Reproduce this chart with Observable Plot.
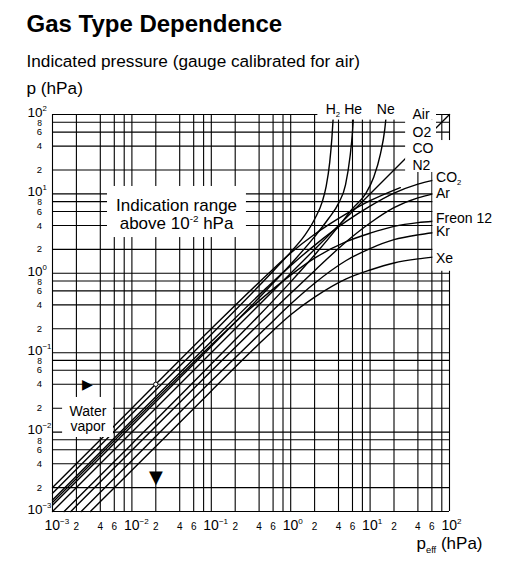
<!DOCTYPE html>
<html>
<head>
<meta charset="utf-8">
<script src="https://cdn.jsdelivr.net/npm/d3@7"></script>
<script src="https://cdn.jsdelivr.net/npm/@observablehq/plot@0.6"></script>
<style>
  html, body { margin: 0; padding: 0; background: white; }
  #chart { width: 509px; height: 562px; }
</style>
</head>
<body>
<div id="chart"></div>
<script>
// ---------- data ----------
const decades = [0.001, 0.01, 0.1, 1, 10, 100];
const exponents = ["−3", "−2", "−1", "0", "1", "2"];
const gridMultipliers = [1, 2, 4, 6, 8];
const xMinorLabels = [2, 4, 6];
const yMinorLabels = [2, 4, 6, 8];

const air     = [[0.001,0.001],[100,100]];
const water   = [[0.001,0.002],[0.01,0.02],[0.1,0.2],[0.5,0.95],[1,1.8],[2,3.1],[5,5.6],[10,8.2],[24,12]];
const h2      = [[0.001,0.0017],[0.01,0.017],[0.1,0.17],[0.5,0.88],[1,1.85],[1.5,3.0],[2,4.8],[2.5,8],[2.8,12.5],[3.1,25],[3.3,50],[3.45,100]];
const he      = [[0.001,0.0012],[0.01,0.012],[0.1,0.12],[0.5,0.62],[1,1.3],[2,2.9],[3,4.9],[4,7.6],[4.9,13],[5.6,30],[6,60],[6.2,100]];
const ne      = [[0.0014,0.001],[0.01,0.0071],[0.1,0.072],[1,0.78],[2,1.7],[4,3.9],[6,6.5],[8.75,10],[11.1,16.2],[13.5,32],[15.3,65],[16,100]];
const co2     = [[0.001,0.0014],[0.01,0.014],[0.1,0.138],[0.5,0.66],[1,1.25],[2,2.25],[5,4.5],[10,7.0],[20,10.2],[40,13.3],[62,14.8]];
const ar      = [[0.0017,0.001],[0.01,0.0059],[0.1,0.059],[1,0.56],[2,1.08],[5,2.5],[10,4.3],[20,6.7],[40,8.9],[62,10]];
const freon12 = [[0.001,0.0013],[0.01,0.013],[0.1,0.125],[0.3,0.35],[1,0.95],[2,1.55],[5,2.5],[10,3.2],[20,3.9],[40,4.35],[62,4.53]];
const kr      = [[0.0023,0.001],[0.01,0.0044],[0.1,0.044],[0.5,0.21],[1,0.41],[2,0.75],[5,1.45],[10,2.05],[20,2.65],[40,3.05],[62,3.24]];
const xe      = [[0.003,0.001],[0.01,0.0033],[0.1,0.033],[0.5,0.16],[1,0.3],[2,0.5],[5,0.85],[10,1.1],[20,1.35],[40,1.52],[62,1.6]];

const readingPoint = [[0.02, 0.04]];   // water vapor example reading
const readingStartY = 0.04;
const readingEndX = 0.02;

// ---------- derived tables ----------
const series = [
  {gas: "Air", pts: air}, {gas: "Water vapor", pts: water}, {gas: "H2", pts: h2},
  {gas: "He", pts: he}, {gas: "Ne", pts: ne}, {gas: "CO2", pts: co2},
  {gas: "Ar", pts: ar}, {gas: "Freon 12", pts: freon12}, {gas: "Kr", pts: kr}, {gas: "Xe", pts: xe}
];
const rows = series.flatMap(s => s.pts.map(([x, y]) => ({gas: s.gas, x, y})));
const last = name => { const p = series.find(s => s.gas === name).pts; const [x, y] = p[p.length - 1]; return {x, y}; };

const gridValues = decades.flatMap(d => gridMultipliers.map(m => m * d)).filter(v => v <= 100 + 1e-9);
const xMinor = decades.slice(0, 5).flatMap(d => xMinorLabels.map(m => ({v: m * d, t: String(m)})));
const yMinor = decades.slice(0, 5).flatMap(d => yMinorLabels.map(m => ({v: m * d, t: String(m), dy: m === 8 ? 1 : 0})));
const majors = decades.map((d, i) => ({v: d, t: "10^{" + exponents[i] + "}"}));

const topLabels = [
  {...last("H2"), t: "H_{2}", dx: -3},
  {...last("He"), t: "He", dx: 1},
  {...last("Ne"), t: "Ne", dx: -1}
];
const rightLabels = [
  {...last("CO2"), t: "CO_{2}", dy: -3},
  {...last("Ar"), t: "Ar", dy: 0},
  {...last("Freon 12"), t: "Freon 12", dy: -3},
  {...last("Kr"), t: "Kr", dy: -1},
  {...last("Xe"), t: "Xe", dy: 1}
];
const airLabels = [
  {y: 100, t: "Air", dy: 0}, {y: 60, t: "O2", dy: 0}, {y: 40, t: "CO", dy: 2}, {y: 20, t: "N2", dy: -4}
];
const panels = [
  {x1: 2.2, x2: 68.6, y1: 130, y2: 85},
  {x1: 28, x2: 68.6, y1: 85, y2: 18.6},
  {x1: 62, x2: 300, y1: 47, y2: 1.06},
  {x1: 0.00493, x2: 0.277, y1: 12.4, y2: 2.82},
  {x1: 0.00134, x2: 0.00586, y1: 0.0273, y2: 0.00855}
];

const font = "'Liberation Sans', Arial, Helvetica, sans-serif";

const chart = Plot.plot({
  width: 509, height: 562,
  marginTop: 114, marginBottom: 51, marginLeft: 52, marginRight: 60,
  x: {type: "log", domain: [0.001, 100], axis: null},
  y: {type: "log", domain: [0.001, 100], axis: null},
  style: {fontFamily: font, background: "white", color: "black", overflow: "visible"},
  marks: [
    Plot.ruleX(gridValues, {x: d => d, stroke: "black", strokeWidth: 1.1}),
    Plot.ruleY(gridValues, {y: d => d, stroke: "black", strokeWidth: 1.1}),
    Plot.line(rows, {x: "x", y: "y", z: "gas", curve: "monotone-x", stroke: "black", strokeWidth: 1.4}),
    Plot.rect(panels, {x1: "x1", x2: "x2", y1: "y1", y2: "y2", fill: "white"}),
    Plot.dot(readingPoint, {x: d => d[0], y: d => d[1], r: 2.2, fill: "white", stroke: "black", strokeWidth: 1}),
    Plot.text(["▶"], {x: 0.00276, y: readingStartY, text: d => d, fontSize: 14, fontFamily: "DejaVu Sans", textAnchor: "middle", lineAnchor: "middle"}),
    Plot.text(["▼"], {x: readingEndX, y: 0.00268, text: d => d, fontSize: 18, fontFamily: "DejaVu Sans", textAnchor: "middle", lineAnchor: "middle"}),
    Plot.text(["Indication range\nabove 10^{-2} hPa"], {x: 0.0365, y: 5.6, text: d => d, fontSize: 17, lineHeight: 1.1, textAnchor: "middle", lineAnchor: "middle"}),
    Plot.text(["Water\nvapor"], {x: 0.0028, y: 0.0148, text: d => d, fontSize: 14, lineHeight: 1.1, textAnchor: "middle", lineAnchor: "middle"}),
    Plot.text(topLabels, {x: "x", y: "y", text: "t", dx: "dx", fontSize: 14, textAnchor: "middle", lineAnchor: "bottom", dy: 5}),
    ...rightLabels.map(l => Plot.text([l], {x: "x", y: "y", text: "t", fontSize: 14, textAnchor: "start", lineAnchor: "middle", dx: 3, dy: l.dy})),
    ...airLabels.map(l => Plot.text([l], {x: 34.2, y: "y", text: "t", fontSize: 14, textAnchor: "start", lineAnchor: "middle", dy: l.dy})),
    Plot.text(majors, {x: "v", text: "t", frameAnchor: "bottom", textAnchor: "start", lineAnchor: "bottom", dx: -8, dy: 18, fontSize: 14}),
    Plot.text(xMinor, {x: "v", text: "t", frameAnchor: "bottom", textAnchor: "middle", lineAnchor: "bottom", dy: 18, fontSize: 10}),
    Plot.text(majors, {y: "v", text: "t", frameAnchor: "left", textAnchor: "start", lineAnchor: "middle", dx: -25, dy: -2, fontSize: 13.5}),
    ...[false, true].map(isEight => Plot.text(yMinor.filter(d => (d.t === "8") === isEight), {y: "v", text: "t", frameAnchor: "left", textAnchor: "middle", lineAnchor: "middle", dx: -13, dy: isEight ? 1 : 0, fontSize: isEight ? 8.5 : 9.5})),
    Plot.text(["Gas Type Dependence"], {text: d => d, frameAnchor: "top-left", dx: -26, dy: -83, textAnchor: "start", lineAnchor: "bottom", fontSize: 24, fontWeight: "bold"}),
    Plot.text(["Indicated pressure (gauge calibrated for air)"], {text: d => d, frameAnchor: "top-left", dx: -26, dy: -48, textAnchor: "start", lineAnchor: "bottom", fontSize: 17.2}),
    Plot.text(["p (hPa)"], {text: d => d, frameAnchor: "top-left", dx: -26, dy: -21, textAnchor: "start", lineAnchor: "bottom", fontSize: 17.2}),
    Plot.text(["p_{eff} (hPa)"], {text: d => d, frameAnchor: "bottom-right", dx: 33, dy: 37, textAnchor: "end", lineAnchor: "bottom", fontSize: 17})
  ]
});

document.getElementById("chart").appendChild(chart);

function richify(svg) {
  const NS = "http://www.w3.org/2000/svg";
  const els = Array.from(svg.querySelectorAll("text, tspan")).filter(el => el.children.length === 0 && /[\^_]\{/.test(el.textContent));
  for (const el of els) {
    const s = el.textContent;
    const base = parseFloat(getComputedStyle(el).fontSize) || 14;
    el.textContent = "";
    const re = /([\^_])\{([^}]*)\}/g;
    let lastIndex = 0, m;
    while ((m = re.exec(s))) {
      if (m.index > lastIndex) el.appendChild(document.createTextNode(s.slice(lastIndex, m.index)));
      const t = document.createElementNS(NS, "tspan");
      const sup = m[1] === "^";
      t.setAttribute("font-size", (base * (sup ? 0.58 : 0.55)).toFixed(1));
      t.setAttribute("baseline-shift", (sup ? base * 0.42 : -base * 0.22).toFixed(1));
      t.textContent = m[2];
      el.appendChild(t);
      lastIndex = re.lastIndex;
    }
    if (lastIndex < s.length) el.appendChild(document.createTextNode(s.slice(lastIndex)));
  }
}
richify(chart);
</script>
</body>
</html>
